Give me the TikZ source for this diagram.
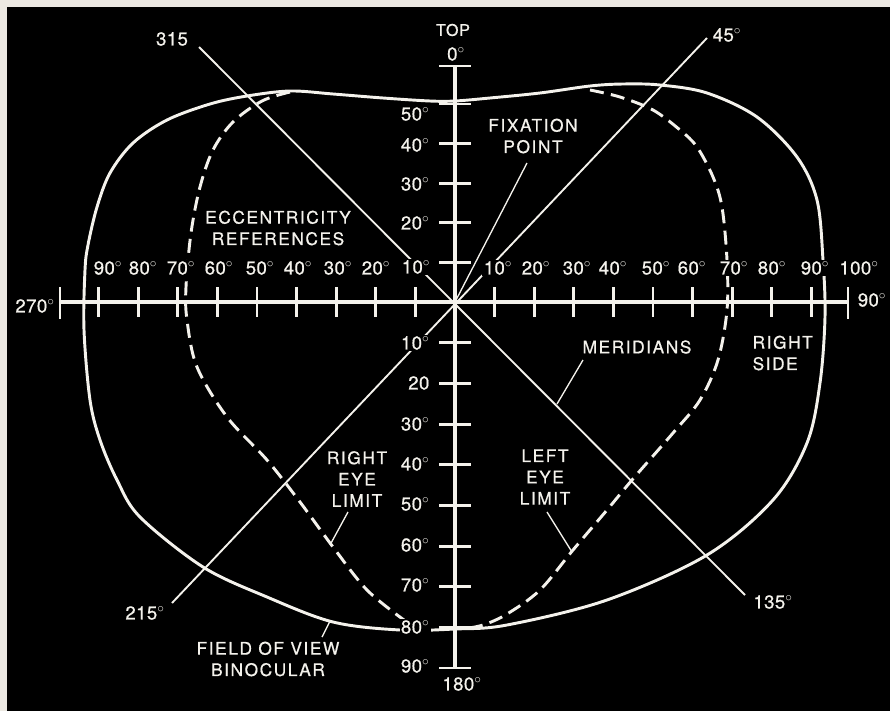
\documentclass[tikz,border=0pt]{standalone}
\usepackage{fontspec}
\setmainfont{TeX Gyre Heros}
\newcommand{\dg}{\ensuremath{^{\circ}}}
\definecolor{paper}{HTML}{ECE9E2}
\definecolor{ink}{HTML}{F4F2EC}
\begin{document}
\begin{tikzpicture}[x=0.75pt,y=-0.75pt,
  solidcurve/.style={ink, line width=2.2pt},
  dashcurve/.style={ink, line width=2.2pt, dash pattern=on 10.5pt off 5.5pt},
  axisline/.style={ink, line width=2.4pt},
  tickline/.style={ink, line width=2.2pt},
  mer/.style={ink, line width=1.4pt},
  lead/.style={ink, line width=1pt},
  num/.style={text=ink, font=\fontsize{14}{16}\selectfont\addfontfeatures{LetterSpace=2,FakeBold=0.6}, inner sep=1pt},
  numc/.style={num, fill=black},
  word/.style={text=ink, align=center, font=\fontsize{13}{16}\selectfont\addfontfeatures{LetterSpace=9,FakeBold=0.6}, inner sep=1pt},
]
\useasboundingbox (0,0) rectangle (890,711);
\clip (0,0) rectangle (890,711);
\fill[black] (-10,-10) rectangle (900,720);
\fill[paper] (-10,-10) rectangle (900,7);
\fill[paper] (-10,-10) rectangle (7,720);

% centre and meridian ends
\coordinate (C) at (455,302);
\coordinate (m315) at (199,47);
\coordinate (m135) at (745,595);
\coordinate (m45) at (707,38);
\coordinate (m215) at (172,603);

% binocular field of view
\draw[solidcurve] plot[smooth cycle, tension=0.55] coordinates {
 (455,101) (490,98) (540,93) (590,86) (623,84) (660,85) (707,93) (757,117)
 (797,157) (817,200) (823,260) (825,317) (820,383) (807,443) (773,500)
 (707,555) (607,600) (507,625) (455,629) (400,630) (333,622) (267,597)
 (203,567) (140,517) (117,480) (100,440) (90,400) (84,330) (85,270)
 (88,245) (97,207) (110,173) (133,143) (167,120) (210,104) (247,96)
 (290,91) (333,94) (383,98) (430,101)};

% right eye limit (left dashed)
\draw[dashcurve] plot[smooth, tension=0.55] coordinates {
 (290,92) (262,101) (233,122) (213,150) (200,187) (191,233) (186,287)
 (187,320) (197,367) (227,417) (267,460) (300,502) (333,547) (367,590) (404,620)};

% left eye limit (right dashed)
\draw[dashcurve] plot[smooth, tension=0.55] coordinates {
 (590,90) (620,97) (653,110) (680,130) (697,147) (713,177) (722,207)
 (727,260) (727,310) (718,360) (700,400) (673,433) (632,480) (607,510)
 (573,550) (540,590) (507,614) (483,625) (462,629)};

% meridians
\draw[mer] (m315) -- (m135);
\draw[mer] (m45) -- (m215);

% axes
\coordinate (hl) at (60,302);
\coordinate (hr) at (848,302);
\coordinate (vt) at (455,66);
\coordinate (vb) at (455,668);
\draw[axisline] (hl) -- (hr);
\draw[axisline] (vt) -- (vb);
\draw[tickline] (60,287) -- (60,319);
\draw[tickline] (848,287) -- (848,319);
\draw[tickline] (439,66) -- (471,66);
\draw[tickline] (439,668) -- (471,668);
\foreach \i in {1,...,9}{
  \draw[tickline] ({455-39.6*\i},287) -- ({455-39.6*\i},317);
  \draw[tickline] ({455+39.6*\i},287) -- ({455+39.6*\i},317);
}
\foreach \i in {1,...,5}{
  \draw[tickline] (439,{302-39.6*\i}) -- (471,{302-39.6*\i});
}
\foreach \i in {1,...,8}{
  \draw[tickline] (439,{302+40.7*\i}) -- (471,{302+40.7*\i});
}

% horizontal scale labels
\node[numc] (hL10) at (416,267) {10\dg};
\node[numc] (hL20) at (376,268) {20\dg};
\node[numc] (hL30) at (338,268) {30\dg};
\node[numc] (hL40) at (298,268) {40\dg};
\node[numc] (hL50) at (260,268) {50\dg};
\node[numc] (hL60) at (219,268) {60\dg};
\node[numc] (hL70) at (181,268) {70\dg};
\node[numc] (hL80) at (143,268) {80\dg};
\node[numc] (hL90) at (108,268) {90\dg};
\node[numc] (hR10) at (498,268) {10\dg};
\node[numc] (hR20) at (536,268) {20\dg};
\node[numc] (hR30) at (577,268) {30\dg};
\node[numc] (hR40) at (613,268) {40\dg};
\node[numc] (hR50) at (656,268) {50\dg};
\node[numc] (hR60) at (692,268) {60\dg};
\node[numc] (hR70) at (734,268) {70\dg};
\node[numc] (hR80) at (772,268) {80\dg};
\node[numc] (hR90) at (815,268) {90\dg};
\node[numc] (hR100) at (859,268) {100\dg};
\node[num] (l270) at (35,306) {270\dg};
\node[num] (l90) at (872,300) {90\dg};

% vertical scale labels
\node[numc, anchor=east] (vU20) at (431,223) {20\dg};
\node[numc, anchor=east] (vU30) at (431,184) {30\dg};
\node[numc, anchor=east] (vU40) at (431,145) {40\dg};
\node[numc, anchor=east] (vU50) at (431,114) {50\dg};
\node[numc, anchor=east] (vD10) at (431,343) {10\dg};
\node[numc, anchor=east] (vD20) at (431,383) {20};
\node[numc, anchor=east] (vD30) at (431,424) {30\dg};
\node[numc, anchor=east] (vD40) at (431,464) {40\dg};
\node[numc, anchor=east] (vD50) at (431,504) {50\dg};
\node[numc, anchor=east] (vD60) at (431,545) {60\dg};
\node[numc, anchor=east] (vD70) at (431,585) {70\dg};
\node[numc, anchor=east] (vD80) at (431,627) {80\dg};
\node[numc, anchor=east] (vD90) at (431,666) {90\dg};
\node[word, font=\fontsize{12}{13}\selectfont\addfontfeatures{LetterSpace=5,FakeBold=0.6}] (top) at (453,30) {TOP};
\node[num] (l0) at (456,54) {0\dg};
\node[num] (l180) at (462,684) {180\dg};

% meridian labels
\node[num] (l315) at (172,39) {315};
\node[num] (l45) at (727,35) {45\dg};
\node[num] (l135) at (773,602) {135\dg};
\node[num] (l215) at (145,613) {215\dg};

% word labels
\node[word] (ecc) at (278,228) {ECCENTRICITY\\REFERENCES};
\node[word] (fix) at (533,136) {FIXATION\\POINT};
\node[word] (meri) at (637,347) {MERIDIANS};
\node[word, align=left, anchor=west] (rside) at (751,353) {RIGHT\\SIDE};
\node[word] (leye) at (545,477) {LEFT\\EYE\\LIMIT};
\node[word] (reye) at (357,479) {RIGHT\\EYE\\LIMIT};
\node[word] (fov) at (268,659) {FIELD OF VIEW\\BINOCULAR};

% leaders
\coordinate (fixA) at (527,163);
\coordinate (meriA) at (583,360);
\coordinate (meriB) at (557,404);
\coordinate (leyeA) at (547,512);
\coordinate (leyeB) at (572,552);
\coordinate (reyeA) at (348,512);
\coordinate (reyeB) at (330,545);
\coordinate (fovA) at (330,621);
\coordinate (fovB) at (322,637);
\draw[lead] (fixA) -- (C);
\draw[lead] (meriA) -- (meriB);
\draw[lead] (leyeA) -- (leyeB);
\draw[lead] (reyeA) -- (reyeB);
\draw[lead] (fovA) -- (fovB);
\end{tikzpicture}
\end{document}
